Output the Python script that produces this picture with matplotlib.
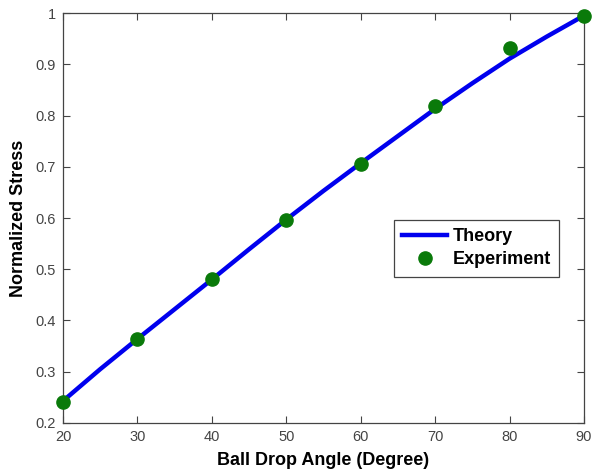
"""Normalized stress vs ball drop angle: theory curve and experiment points"""
import matplotlib
matplotlib.use('Agg')
import matplotlib.pyplot as plt

# theory curve
theory_angle = [20, 25, 30, 35, 40, 45, 50, 55, 60, 65, 70, 75, 80, 85, 90]
theory_stress = [0.243, 0.305, 0.364, 0.422, 0.480, 0.539, 0.597, 0.653, 0.707,
                 0.760, 0.813, 0.863, 0.911, 0.954, 0.995]

# experiment points
exp_angle = [20, 30, 40, 50, 60, 70, 80, 90]
exp_stress = [0.240, 0.363, 0.480, 0.596, 0.706, 0.819, 0.932, 0.995]

x_ticks = [20, 30, 40, 50, 60, 70, 80, 90]
y_ticks = [0.2, 0.3, 0.4, 0.5, 0.6, 0.7, 0.8, 0.9, 1]
y_labels = ['0.2', '0.3', '0.4', '0.5', '0.6', '0.7', '0.8', '0.9', '1']

plt.rcParams['font.family'] = ['Liberation Sans', 'DejaVu Sans']

fig = plt.figure(figsize=(5.92, 4.75), dpi=100)
ax = fig.add_axes([0.1064, 0.1095, 0.8801, 0.8631])

ax.plot(theory_angle, theory_stress, color='#0000ee', lw=3.2, label='Theory', zorder=2)
ax.plot(exp_angle, exp_stress, 'o', color='#0a7a0a', ms=9.5, label='Experiment',
        clip_on=False, zorder=3)

ax.set_xlim(20, 90)
ax.set_ylim(0.2, 1)
ax.set_xticks(x_ticks)
ax.set_yticks(y_ticks)
ax.set_yticklabels(y_labels)
ax.tick_params(direction='in', top=True, right=True, length=5, width=0.8,
               labelsize=10.5, labelcolor='#444444', color='#444444', pad=5)
for s in ax.spines.values():
    s.set_color('#444444')
    s.set_linewidth(0.9)

ax.set_xlabel('Ball Drop Angle (Degree)', fontsize=13, fontweight='bold', labelpad=6)
ax.set_ylabel('Normalized Stress', fontsize=13, fontweight='bold', labelpad=6)

leg = ax.legend(loc='upper left', bbox_to_anchor=(0.635, 0.495), fancybox=False,
                edgecolor='#444444', prop={'weight': 'bold', 'size': 13},
                handlelength=2.5, borderpad=0.45, labelspacing=0.35, handletextpad=0.3,
                framealpha=1, borderaxespad=0)
leg.get_frame().set_linewidth(0.9)

fig.savefig('out.png', dpi=100)
